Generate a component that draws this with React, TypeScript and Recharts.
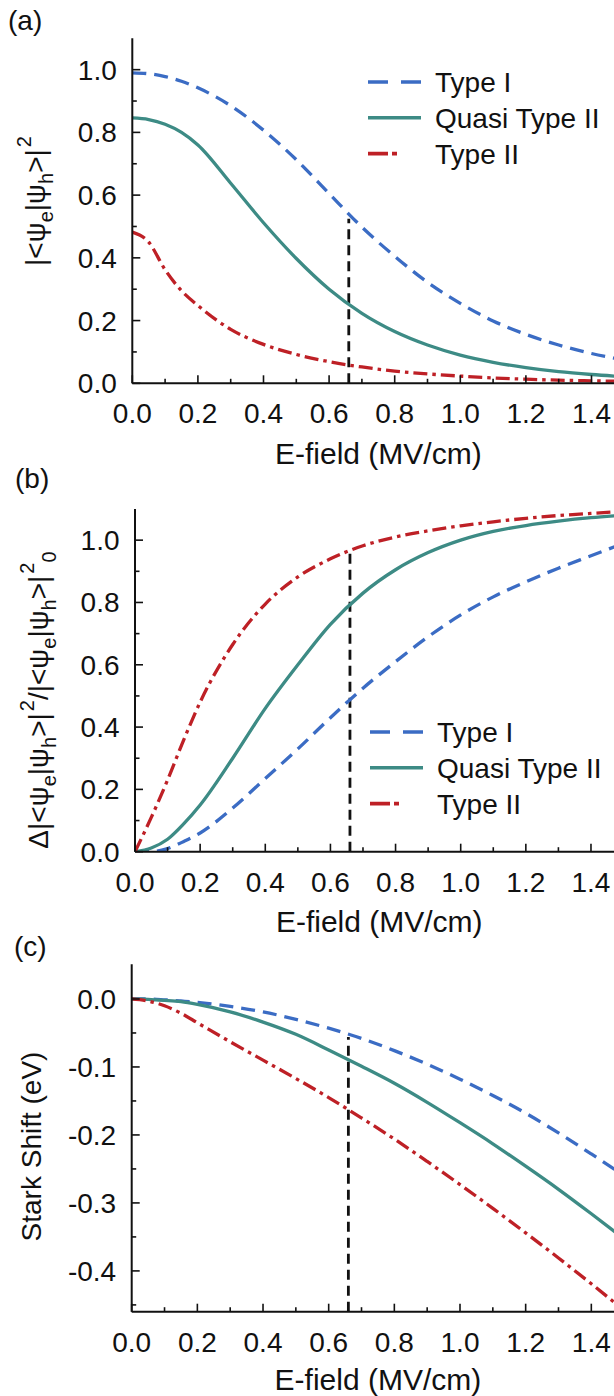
import { Legend, Line, LineChart, ReferenceLine, XAxis, YAxis } from "recharts";

// E-field grid (MV/cm), shared by every series
const field = [0, 0.05, 0.1, 0.15, 0.2, 0.3, 0.4, 0.5, 0.6, 0.7, 0.8, 0.9, 1.0, 1.1, 1.2, 1.3, 1.4, 1.5];

// (a) overlap |<psi_e|psi_h>|^2
const typeIA = [0.99, 0.987, 0.978, 0.963, 0.942, 0.885, 0.807, 0.713, 0.605, 0.498, 0.405, 0.322, 0.255, 0.199, 0.156, 0.122, 0.095, 0.074];
const quasiA = [0.846, 0.841, 0.826, 0.8, 0.76, 0.638, 0.512, 0.398, 0.3, 0.223, 0.165, 0.122, 0.09, 0.067, 0.05, 0.037, 0.028, 0.021];
const typeIIA = [0.482, 0.45, 0.362, 0.295, 0.248, 0.172, 0.124, 0.092, 0.069, 0.052, 0.039, 0.03, 0.023, 0.017, 0.013, 0.01, 0.008, 0.006];

// (b) relative change of the overlap
const typeIB = [0, 0, 0.01, 0.033, 0.06, 0.14, 0.235, 0.33, 0.43, 0.525, 0.61, 0.69, 0.76, 0.818, 0.866, 0.91, 0.95, 0.99];
const quasiB = [0, 0.012, 0.04, 0.09, 0.15, 0.3, 0.46, 0.6, 0.73, 0.83, 0.905, 0.96, 1.0, 1.028, 1.047, 1.061, 1.072, 1.08];
const typeIIB = [0, 0.11, 0.23, 0.36, 0.48, 0.665, 0.795, 0.882, 0.94, 0.982, 1.01, 1.03, 1.046, 1.059, 1.07, 1.079, 1.086, 1.092];

// (c) Stark shift (eV)
const typeIC = [0, 0, -0.0012, -0.003, -0.005, -0.011, -0.019, -0.03, -0.043, -0.058, -0.076, -0.096, -0.118, -0.142, -0.168, -0.197, -0.228, -0.26];
const quasiC = [0, -0.0005, -0.002, -0.004, -0.008, -0.019, -0.034, -0.052, -0.075, -0.099, -0.124, -0.152, -0.182, -0.213, -0.246, -0.28, -0.316, -0.353];
const typeIIC = [0, -0.003, -0.01, -0.021, -0.035, -0.063, -0.09, -0.117, -0.145, -0.175, -0.206, -0.239, -0.273, -0.308, -0.344, -0.381, -0.419, -0.458];

const xTicks = [0, 0.1, 0.2, 0.3, 0.4, 0.5, 0.6, 0.7, 0.8, 0.9, 1.0, 1.1, 1.2, 1.3, 1.4, 1.5];
const yTicksAB = [0, 0.1, 0.2, 0.3, 0.4, 0.5, 0.6, 0.7, 0.8, 0.9, 1.0];
const yTicksC = [0, -0.05, -0.1, -0.15, -0.2, -0.25, -0.3, -0.35, -0.4, -0.45];

// dashed marker at the operating field
const markerField = 0.66;
const markerTopA = 0.525;
const markerTopB = 0.975;
const markerTopC = -0.056;

const FONT = "'Liberation Sans', Arial, sans-serif";
const INK = "#111";
const axisLine = { stroke: INK, strokeWidth: 2 };

const SERIES = [
  { key: "typeI", name: "Type I", color: "#3b6cc4", dash: "14 8", legendDash: "20 13", legendLen: 53 },
  { key: "quasi", name: "Quasi Type II", color: "#3d8b85", dash: undefined, legendDash: undefined, legendLen: 53 },
  { key: "typeII", name: "Type II", color: "#be2026", dash: "14 5 3.5 5", legendDash: "20 4 5 40", legendLen: 30 },
];

const rows = (a: number[], b: number[], c: number[]) =>
  field.map((e, i) => ({ e, typeI: a[i], quasi: b[i], typeII: c[i] }));

const fmt = (v: number) => (Math.abs(v) < 1e-9 ? "0.0" : v.toFixed(1));
const isTenth = (v: number) => Math.round(v * 10) % 2 === 0;
const isHalfTenth = (v: number) => Math.round(v * 100) % 10 === 0;

const BottomTick = (props: any) => {
  const { x, y, payload } = props;
  const major = isTenth(payload.value);
  return (
    <g>
      <line x1={x} x2={x} y1={y} y2={y - (major ? 8 : 4.5)} stroke={INK} strokeWidth={1.6} />
      {major && payload.value < 1.45 && (
        <text x={x} y={y + 40} textAnchor="middle" fontSize={28} fontFamily={FONT} fill={INK}>
          {fmt(payload.value)}
        </text>
      )}
    </g>
  );
};

const TopTick = (props: any) => {
  const { x, y, payload } = props;
  const major = isTenth(payload.value);
  return <line x1={x} x2={x} y1={y} y2={y + (major ? 8 : 4.5)} stroke={INK} strokeWidth={1.6} />;
};

const leftTick = (isMajor: (v: number) => boolean) => (props: any) => {
  const { x, y, payload } = props;
  const major = isMajor(payload.value);
  return (
    <g>
      <line x1={x} x2={x + (major ? 8 : 4.5)} y1={y} y2={y} stroke={INK} strokeWidth={1.6} />
      {major && (
        <text x={x - 15.5} y={y + 10} textAnchor="end" fontSize={28} fontFamily={FONT} fill={INK}>
          {fmt(payload.value)}
        </text>
      )}
    </g>
  );
};

function LegendBox() {
  return (
    <svg width={240} height={112} style={{ display: "block" }}>
      {SERIES.map((s, i) => {
        const cy = 22 + i * 35.8;
        return (
          <g key={s.key}>
            <line x1={0} x2={s.legendLen} y1={cy} y2={cy} stroke={s.color} strokeWidth={3.6} strokeDasharray={s.legendDash} />
            <text x={67} y={cy + 10} fontSize={28} fontFamily={FONT} fill={INK}>
              {s.name}
            </text>
          </g>
        );
      })}
    </svg>
  );
}

const SUB = 20;
const Psi = () => (
  <>
    <tspan>|&lt;ψ</tspan>
    <tspan dy={8} fontSize={SUB}>e</tspan>
    <tspan dy={-8}>|ψ</tspan>
    <tspan dy={8} fontSize={SUB}>h</tspan>
    <tspan dy={-8}>&gt;|</tspan>
  </>
);

function YTitle({ x, y, children }: { x: number; y: number; children: any }) {
  return (
    <text x={x} y={y} transform={`rotate(-90 ${x} ${y})`} textAnchor="middle" fontSize={28} fontFamily={FONT} fill={INK}>
      {children}
    </text>
  );
}

type PanelProps = {
  data: any[];
  chartTop: number;
  height: number;
  plotTop: number;
  plotBottom: number;
  plotLeft: number;
  unitX: number;
  yDomain: [number, number];
  yTicks: number[];
  yMajor: (v: number) => boolean;
  marker: [number, number];
  titleDrop: number;
  yTitle: any;
  legendAt?: { left: number; top: number };
};

function Panel(p: PanelProps) {
  const W = 630;
  const yAxisW = 100;
  const xAxisH = 60;
  const plotRight = p.plotLeft + 1.5 * p.unitX;
  const margin = {
    top: p.plotTop - p.chartTop,
    left: p.plotLeft - yAxisW,
    right: W - plotRight,
    bottom: p.height - xAxisH - (p.plotBottom - p.chartTop),
  };
  const titleX = (p.plotLeft + plotRight) / 2;
  const titleY = p.plotBottom - p.chartTop + p.titleDrop;
  return (
    <div style={{ position: "absolute", left: 0, top: p.chartTop }}>
      <LineChart width={W} height={p.height} data={p.data} margin={margin}>
        <XAxis
          dataKey="e"
          type="number"
          domain={[0, 1.5]}
          ticks={xTicks}
          interval={0}
          tickSize={0}
          tickMargin={0}
          tick={BottomTick}
          axisLine={axisLine}
          height={xAxisH}
          allowDataOverflow
          label={{
            content: () => (
              <text x={titleX} y={titleY} textAnchor="middle" fontSize={30} fontFamily={FONT} fill={INK}>
                E-field (MV/cm)
              </text>
            ),
          }}
        />
        <XAxis
          xAxisId="top"
          orientation="top"
          dataKey="e"
          type="number"
          domain={[0, 1.5]}
          ticks={xTicks}
          interval={0}
          tickSize={0}
          tickMargin={0}
          tick={TopTick}
          axisLine={axisLine}
          height={0}
          allowDataOverflow
        />
        <YAxis
          type="number"
          domain={p.yDomain}
          ticks={p.yTicks}
          interval={0}
          tickSize={0}
          tickMargin={0}
          tick={leftTick(p.yMajor)}
          axisLine={axisLine}
          width={yAxisW}
          allowDataOverflow
          label={{ content: () => p.yTitle }}
        />
        <ReferenceLine
          segment={[
            { x: markerField, y: p.marker[0] },
            { x: markerField, y: p.marker[1] },
          ]}
          stroke={INK}
          strokeWidth={2.8}
          strokeDasharray="10 6"
        />
        {SERIES.map((s) => (
          <Line
            key={s.key}
            type="monotone"
            dataKey={s.key}
            name={s.name}
            stroke={s.color}
            strokeWidth={3.3}
            strokeDasharray={s.dash}
            dot={false}
            activeDot={false}
            isAnimationActive={false}
          />
        ))}
        {p.legendAt && (
          <Legend
            layout="vertical"
            align="center"
            verticalAlign="middle"
            wrapperStyle={{ left: p.legendAt.left, top: p.legendAt.top, width: 240 }}
            content={() => <LegendBox />}
          />
        )}
      </LineChart>
    </div>
  );
}

export default function App() {
  return (
    <div style={{ position: "relative", width: 614, height: 1396, overflow: "hidden", background: "#fff", fontFamily: FONT }}>
      <style>{"body{margin:0}"}</style>
      <Panel
        data={rows(typeIA, quasiA, typeIIA)}
        chartTop={0}
        height={480}
        plotTop={38.3}
        plotBottom={383.3}
        plotLeft={132.3}
        unitX={328}
        yDomain={[0, 1.1]}
        yTicks={yTicksAB}
        yMajor={isTenth}
        marker={[0, markerTopA]}
        titleDrop={80.7}
        legendAt={{ left: 368, top: 60 }}
        yTitle={
          <YTitle x={45} y={201}>
            <Psi />
            <tspan dy={-14} dx={2} fontSize={SUB}>2</tspan>
          </YTitle>
        }
      />
      <Panel
        data={rows(typeIB, quasiB, typeIIB)}
        chartTop={470}
        height={480}
        plotTop={509}
        plotBottom={851.7}
        plotLeft={135}
        unitX={325.7}
        yDomain={[0, 1.1]}
        yTicks={yTicksAB}
        yMajor={isTenth}
        marker={[0, markerTopB]}
        titleDrop={80.7}
        legendAt={{ left: 370, top: 240 }}
        yTitle={
          <YTitle x={48} y={230}>
            <tspan>Δ</tspan>
            <Psi />
            <tspan dy={-14} dx={2} fontSize={SUB}>2</tspan>
            <tspan dy={14}>/</tspan>
            <Psi />
            <tspan dy={-14} dx={2} fontSize={SUB}>2</tspan>
            <tspan dy={22} fontSize={SUB}>0</tspan>
          </YTitle>
        }
      />
      <Panel
        data={rows(typeIC, quasiC, typeIIC)}
        chartTop={930}
        height={466}
        plotTop={964.3}
        plotBottom={1311.7}
        plotLeft={131.7}
        unitX={328.3}
        yDomain={[-0.46, 0.051]}
        yTicks={yTicksC}
        yMajor={isHalfTenth}
        marker={[-0.46, markerTopC]}
        titleDrop={78.7}
        yTitle={
          <YTitle x={41} y={216.5}>
            Stark Shift (eV)
          </YTitle>
        }
      />
      <svg width={614} height={1396} style={{ position: "absolute", left: 0, top: 0, pointerEvents: "none" }}>
        <text x={8} y={30} fontSize={28} fontFamily={FONT} fill={INK}>(a)</text>
        <text x={15} y={488} fontSize={28} fontFamily={FONT} fill={INK}>(b)</text>
        <text x={14} y={956} fontSize={28} fontFamily={FONT} fill={INK}>(c)</text>
      </svg>
    </div>
  );
}
